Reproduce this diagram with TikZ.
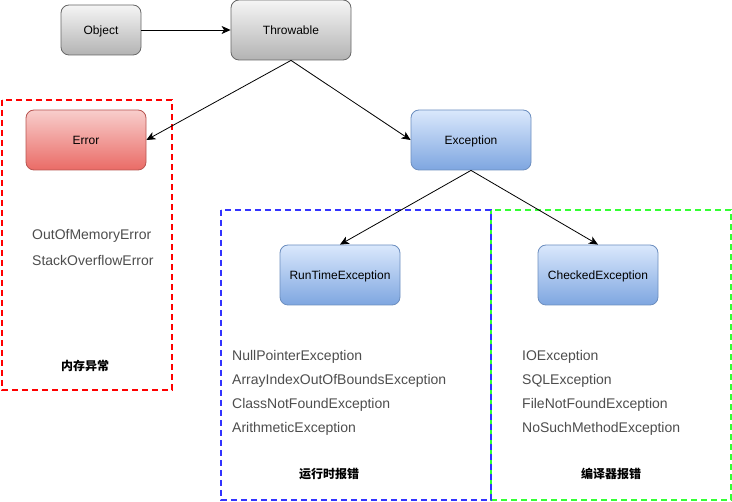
\documentclass[tikz,border=0pt]{standalone}
\usepackage{fontspec}
\setmainfont{Liberation Sans}
\newfontfamily\cjk{Noto Sans CJK SC}
\usetikzlibrary{arrows.meta}
\definecolor{grayTop}{HTML}{F5F5F5}
\definecolor{grayBot}{HTML}{B3B3B3}
\definecolor{grayLine}{HTML}{666666}
\definecolor{redTop}{HTML}{F8CECC}
\definecolor{redBot}{HTML}{EA6B66}
\definecolor{redLine}{HTML}{B85450}
\definecolor{blueTop}{HTML}{DAE8FC}
\definecolor{blueBot}{HTML}{7EA6E0}
\definecolor{blueLine}{HTML}{6C8EBF}
\definecolor{listText}{HTML}{4D4D4D}
\definecolor{dashRed}{HTML}{FF0000}
\definecolor{dashBlue}{HTML}{3333FF}
\definecolor{dashGreen}{HTML}{33FF33}
\tikzset{
  box/.style={rounded corners=8pt, minimum width=120pt, minimum height=60pt, inner sep=0pt, text height=10.4pt, text depth=2pt, font=\fontsize{12}{14}\selectfont, text=black, line width=0.8pt},
  graybox/.style={box, draw=grayLine, top color=grayTop, bottom color=grayBot},
  redbox/.style={box, draw=redLine, top color=redTop, bottom color=redBot},
  bluebox/.style={box, draw=blueLine, top color=blueTop, bottom color=blueBot},
  listtxt/.style={anchor=west, inner sep=0pt, yshift=-2pt, font=\fontsize{14}{16}\selectfont, text=listText},
  cjklabel/.style={inner sep=0pt, font=\cjk\bfseries\fontsize{12}{14}\selectfont, text=black},
  area/.style={line width=2pt, dash pattern=on 6pt off 4pt},
  conn/.style={line width=0.8pt, -{Stealth[length=9pt,width=8pt,inset=2.5pt]}}
}
\begin{document}
\begin{tikzpicture}[x=1pt,y=-1pt]
\useasboundingbox (0,0) rectangle (732,502);
% dashed areas
\draw[area, dashRed] (2,100) rectangle (172,390);
\draw[area, dashGreen] (491,210) rectangle (731,500);
\draw[area, dashBlue] (221,210) rectangle (491,500);
% nodes
\node[graybox, minimum width=80pt, minimum height=50pt] (object) at (101,30) {Object};
\node[graybox] (throwable) at (291,30) {Throwable};
\node[redbox] (error) at (86,140) {Error};
\node[bluebox] (exception) at (471,140) {Exception};
\node[bluebox] (runtime) at (340,275) {RunTimeException};
\node[bluebox] (checked) at (598,275) {CheckedException};
% lists
\node[listtxt] (oom) at (32,234) {OutOfMemoryError};
\node[listtxt] (soe) at (32,258) {StackOverflowError};
\node[cjklabel] (mem) at (85,366) {内存异常};
\node[listtxt] (npe) at (232,355) {NullPointerException};
\node[listtxt] (aio) at (232,379) {ArrayIndexOutOfBoundsException};
\node[listtxt] (cnf) at (232,403) {ClassNotFoundException};
\node[listtxt] (ari) at (232,427) {ArithmeticException};
\node[cjklabel] (rt) at (329,474) {运行时报错};
\node[listtxt] (ioe) at (522,355) {IOException};
\node[listtxt] (sql) at (522,379) {SQLException};
\node[listtxt] (fnf) at (522,403) {FileNotFoundException};
\node[listtxt] (nsm) at (522,427) {NoSuchMethodException};
\node[cjklabel] (ce) at (611,474) {编译器报错};
% connectors
\draw[conn] (object.east) -- (throwable.west);
\draw[conn] (throwable.south) -- (error.east);
\draw[conn] (throwable.south) -- (exception.west);
\draw[conn] (exception.south) -- (runtime.north);
\draw[conn] (exception.south) -- (checked.north);
\end{tikzpicture}
\end{document}
